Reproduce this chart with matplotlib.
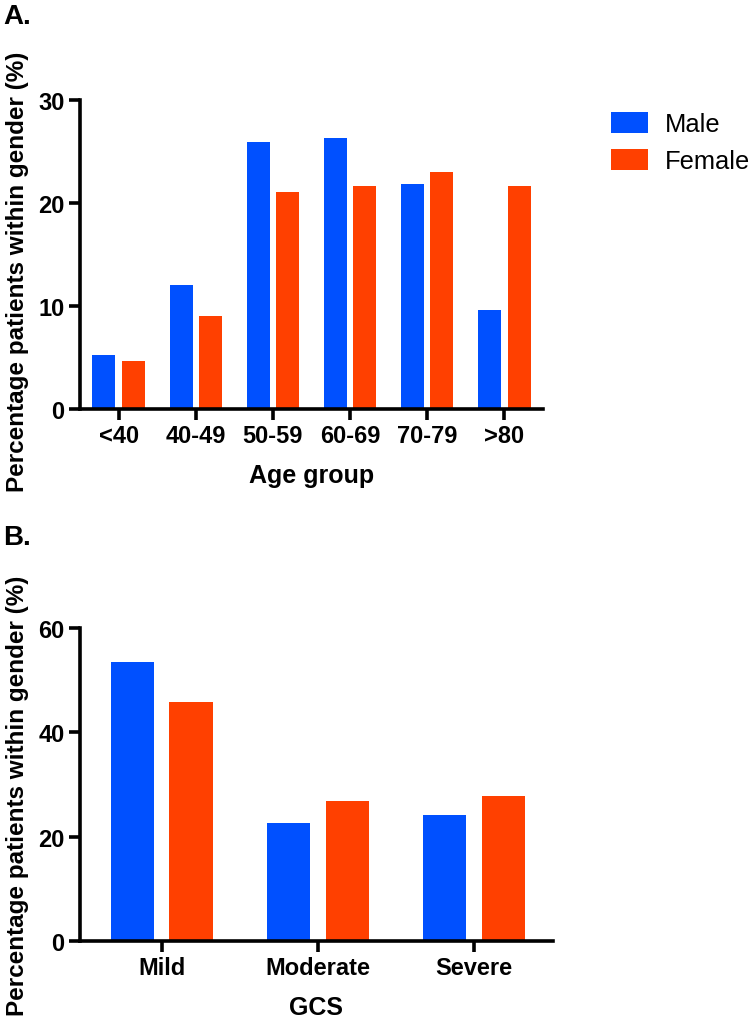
import matplotlib
matplotlib.use("Agg")
import matplotlib.pyplot as plt
import numpy as np
from matplotlib.patches import Patch

plt.rcParams['font.family'] = ['Liberation Sans', 'DejaVu Sans']

age_groups = ["<40", "40-49", "50-59", "60-69", "70-79", ">80"]
age_male = [5.2, 12.0, 25.9, 26.3, 21.8, 9.6]
age_female = [4.7, 9.0, 21.0, 21.6, 23.0, 21.6]

gcs_groups = ["Mild", "Moderate", "Severe"]
gcs_male = [53.4, 22.6, 24.2]
gcs_female = [45.9, 26.8, 27.7]

series_names = ["Male", "Female"]
BLUE = "#0050FF"
ORANGE = "#FF4000"

W, H = 751, 1020
fig = plt.figure(figsize=(W / 100, H / 100), dpi=100)

def px_axes(l, t, r, b):
    return fig.add_axes([l / W, 1 - b / H, (r - l) / W, (b - t) / H])

def style(ax, ymax, ystep):
    for s in ["top", "right"]:
        ax.spines[s].set_visible(False)
    for s in ["left", "bottom"]:
        ax.spines[s].set_linewidth(2.6)
        ax.spines[s].set_capstyle("projecting")
    ax.set_ylim(0, ymax)
    ax.set_yticks(np.arange(0, ymax + 0.1, ystep))
    ax.tick_params(axis="both", width=2.6, length=8, labelsize=17, pad=3)
    for lab in ax.get_xticklabels() + ax.get_yticklabels():
        lab.set_fontweight("bold")

YLAB = "Percentage patients within gender (%)"

# Panel A
axA = px_axes(80, 100.7, 543, 410)
x = np.arange(len(age_groups))
wA = 0.30
offA = 0.19
axA.bar(x - offA, age_male, wA, color=BLUE, label=series_names[0])
axA.bar(x + offA, age_female, wA, color=ORANGE, label=series_names[1])
axA.set_xlim(-0.5, 5.5)
axA.set_xticks(x)
axA.set_xticklabels(age_groups)
style(axA, 30, 10)
axA.set_xlabel("Age group", fontsize=18, fontweight="bold", labelpad=11)
axA.set_ylabel(YLAB, fontsize=17.5, fontweight="bold")
axA.yaxis.set_label_coords((29 - 80) / 463, 1 - (271.5 - 100.7) / 309.3)

# Panel B
axB = px_axes(80, 629, 553, 942)
xb = np.arange(len(gcs_groups))
wB = 0.278
offB = 0.188
axB.bar(xb - offB, gcs_male, wB, color=BLUE)
axB.bar(xb + offB, gcs_female, wB, color=ORANGE)
axB.set_xlim(-0.523, 2.505)
axB.set_xticks(xb)
axB.set_xticklabels(gcs_groups)
style(axB, 60, 20)
axB.set_xlabel("GCS", fontsize=18, fontweight="bold", labelpad=11)
axB.set_ylabel(YLAB, fontsize=17.5, fontweight="bold")
axB.yaxis.set_label_coords((29 - 80) / 473, 1 - (796 - 629) / 313)

# Legend
handles = [Patch(facecolor=BLUE, edgecolor="none"), Patch(facecolor=ORANGE, edgecolor="none")]
fig.legend(handles, series_names, loc="upper left", bbox_to_anchor=(611 / W, 1 - 112.5 / H),
           frameon=False, fontsize=18.4, handlelength=1.45, handleheight=0.89,
           handletextpad=0.66, labelspacing=0.51, borderpad=0, borderaxespad=0)

fig.text(3 / W, 1 - 4 / H, "A.", fontsize=20, fontweight="bold", va="top", ha="left")
fig.text(3 / W, 1 - 525 / H, "B.", fontsize=20, fontweight="bold", va="top", ha="left")

fig.savefig("out.png", dpi=100)
